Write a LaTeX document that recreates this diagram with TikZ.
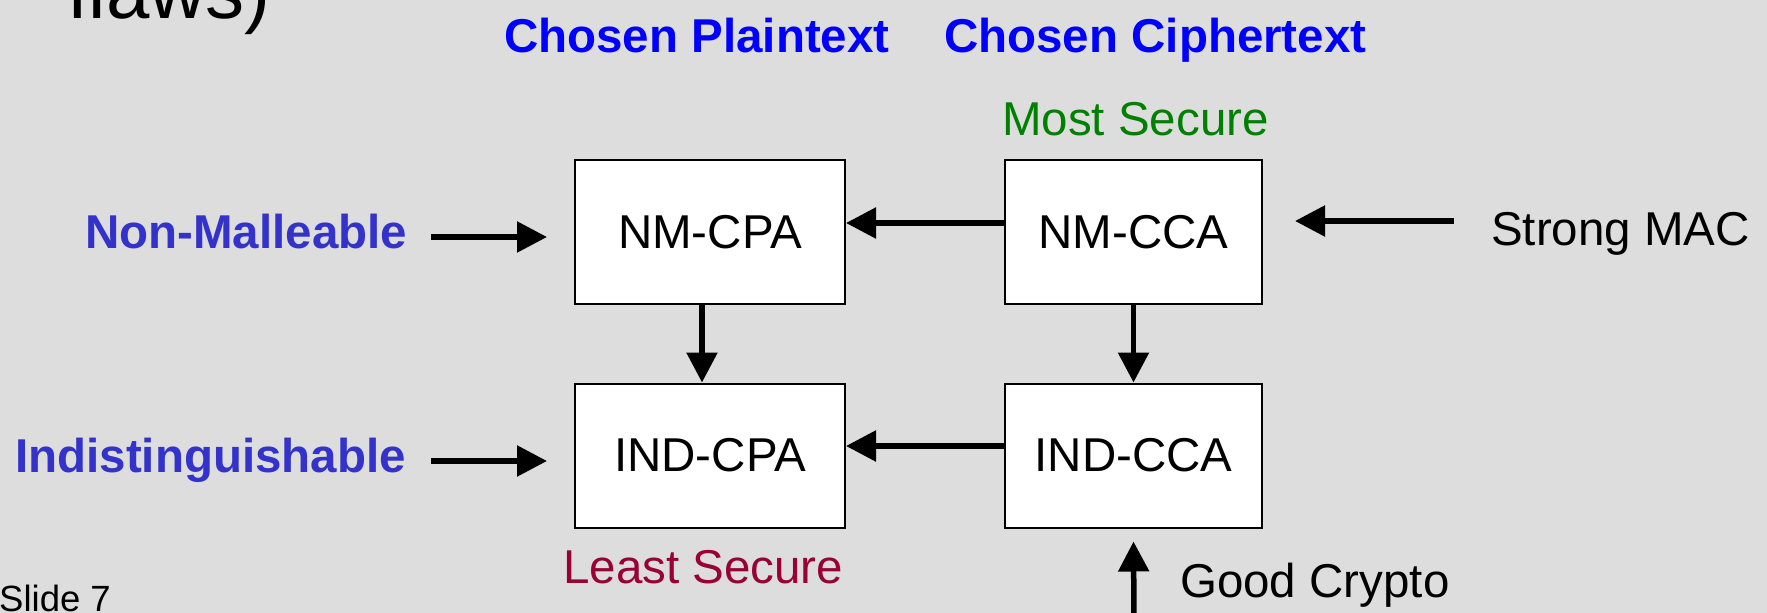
\documentclass[tikz,border=0pt]{standalone}
\usepackage{fontspec}
\setmainfont{Liberation Sans}
\usetikzlibrary{arrows.meta}
\definecolor{bg}{HTML}{DDDDDD}
\definecolor{hdblue}{HTML}{0000FF}
\definecolor{sideblue}{HTML}{3333CC}
\definecolor{mostgreen}{HTML}{008000}
\definecolor{leastred}{HTML}{990033}
\begin{document}
\begin{tikzpicture}[x=1pt,y=-1pt,
  box/.style={draw=black,line width=2pt,fill=white,inner sep=0pt,
    minimum width=270pt,minimum height=144pt,
    font=\fontsize{47.5}{57}\selectfont},
  arr/.style={line width=5.5pt,-{Triangle[length=30pt,width=30pt]}},
  lbl/.style={inner sep=0pt,anchor=base west,font=\fontsize{47.5}{57}\selectfont},
  blbl/.style={lbl,font=\fontsize{47.5}{57}\selectfont\bfseries},
]
\fill[bg] (0,0) rectangle (1767,613);
\useasboundingbox (0,0) rectangle (1767,613);

% boxes
\node[box] (nmcpa) at (710,232) {NM-CPA};
\node[box,minimum width=257pt] (nmcca) at (1133.5,232) {NM-CCA};
\node[box] (indcpa) at (710,455.5) {IND-CPA};
\node[box,minimum width=257pt] (indcca) at (1133.5,455.5) {IND-CCA};

% texts
\node[inner sep=0pt,anchor=base east,font=\fontsize{78}{94}\selectfont] (flaws) at (271,18) {flaws)};
\node[blbl,text=hdblue] (cpt) at (504,52) {Chosen Plaintext};
\node[blbl,text=hdblue] (cct) at (944,52) {Chosen Ciphertext};
\node[lbl,text=mostgreen] (most) at (1002,135) {Most Secure};
\node[blbl,text=sideblue] (nml) at (85,248) {Non-Malleable};
\node[blbl,text=sideblue] (ind) at (15,472) {Indistinguishable};
\node[lbl] (mac) at (1491,245) {Strong MAC};
\node[lbl,text=leastred] (least) at (563,583) {Least Secure};
\node[lbl] (good) at (1180,597) {Good Crypto};
\node[lbl,font=\fontsize{36.5}{44}\selectfont] (slide) at (-1,611) {Slide 7};

% internal arrows
\draw[arr] ([yshift=9pt]nmcca.west) -- ([yshift=9pt]nmcpa.east);
\draw[arr] ([yshift=9.5pt]indcca.west) -- ([yshift=9.5pt]indcpa.east);
\draw[arr] ([xshift=-8pt]nmcpa.south) -- ([xshift=-8pt]indcpa.north);
\draw[arr] (nmcca.south) -- (indcca.north);

% outer arrows
\coordinate (nmsrc) at (431,237);
\coordinate (nmdst) at (547,237);
\draw[arr] (nmsrc) -- (nmdst);
\coordinate (indsrc) at (431,461);
\coordinate (inddst) at (547,461);
\draw[arr] (indsrc) -- (inddst);
\coordinate (macsrc) at (1454,221);
\coordinate (macdst) at (1295,221);
\draw[arr] (macsrc) -- (macdst);
\coordinate (gcsrc) at (1134,620);
\draw[arr] (gcsrc) -- ([yshift=-13pt]indcca.south);
\end{tikzpicture}
\end{document}
